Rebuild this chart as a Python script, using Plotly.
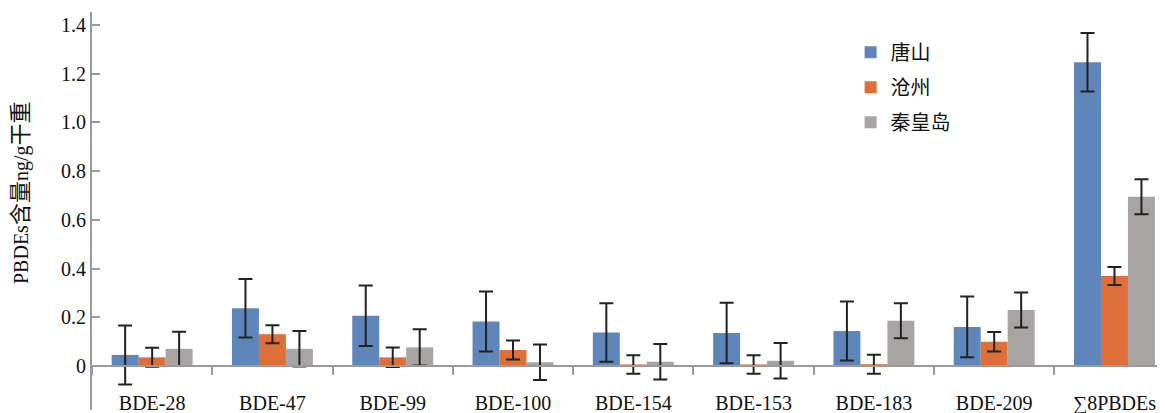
import plotly.graph_objects as go

categories = ["BDE-28", "BDE-47", "BDE-99", "BDE-100", "BDE-154", "BDE-153", "BDE-183", "BDE-209", "∑8PBDEs"]
series_names = ["唐山", "沧州", "秦皇岛"]
tangshan = [0.046, 0.237, 0.207, 0.183, 0.138, 0.136, 0.144, 0.161, 1.247]
tangshan_err = [0.121, 0.120, 0.124, 0.123, 0.120, 0.124, 0.121, 0.125, 0.120]
cangzhou = [0.036, 0.131, 0.036, 0.066, 0.007, 0.007, 0.008, 0.100, 0.370]
cangzhou_err = [0.039, 0.037, 0.040, 0.039, 0.038, 0.038, 0.039, 0.040, 0.037]
qinhuangdao = [0.071, 0.071, 0.077, 0.016, 0.018, 0.022, 0.186, 0.230, 0.695]
qinhuangdao_err = [0.070, 0.073, 0.074, 0.073, 0.073, 0.073, 0.072, 0.072, 0.072]
y_tickvals = [0, 0.2, 0.4, 0.6, 0.8, 1.0, 1.2, 1.4]
y_ticktext = ["0", "0.2", "0.4", "0.6", "0.8", "1.0", "1.2", "1.4"]
y_title = "PBDEs<span style='font-size:22px'>含量</span>ng/g<span style='font-size:22px'>干重</span>"

colors = ["#5f86ba", "#df6f38", "#a8a4a3"]
FONT = "'Liberation Serif', 'Times New Roman', 'Noto Sans CJK SC', serif"

fig = go.Figure()
for name, vals, errs, col in zip(series_names,
                                 [tangshan, cangzhou, qinhuangdao],
                                 [tangshan_err, cangzhou_err, qinhuangdao_err],
                                 colors):
    fig.add_trace(go.Bar(
        x=categories, y=vals, name=name, legendgroup=name,
        marker=dict(color=col, line=dict(width=0)),
        error_y=dict(type="data", array=errs, visible=True,
                     color="#222222", thickness=2, width=7),
    ))

# page has an 8px body margin, so the figure is sized to end at the window edge
W, H = 1157, 405
ML, MT, MR, MB = 84, 4, 0, 3
PW, PH = W - ML - MR, H - MT - MB

ymin, ymax = -0.18, 1.453
fig.update_layout(
    template="none",
    width=W, height=H,
    margin=dict(l=ML, r=MR, t=MT, b=MB, pad=0),
    paper_bgcolor="white", plot_bgcolor="white",
    barmode="group", bargap=0.327, bargroupgap=0,
    font=dict(family=FONT, size=20, color="#111111"),
    showlegend=True,
    legend=dict(x=0.707, y=0.948, xanchor="left", yanchor="top",
                bgcolor="rgba(0,0,0,0)", tracegroupgap=6, borderwidth=0,
                font=dict(size=20, family=FONT)),
    xaxis=dict(
        range=[-0.5, 8.42], anchor="free", automargin=False,
        position=(0 - ymin) / (ymax - ymin),
        showline=True, linecolor="#9a9a9a", linewidth=2,
        ticks="outside", tickson="boundaries", ticklen=8, tickwidth=2, tickcolor="#9a9a9a",
        ticklabelstandoff=19,
        showgrid=False, zeroline=False,
        tickfont=dict(size=20, family=FONT),
    ),
    yaxis=dict(
        range=[ymin, ymax], automargin=False,
        tickvals=y_tickvals, ticktext=y_ticktext,
        showline=True, linecolor="#9a9a9a", linewidth=2,
        ticks="inside", ticklen=8, tickwidth=2, tickcolor="#9a9a9a",
        showgrid=False, zeroline=False,
        tickfont=dict(size=20, family=FONT),
    ),
    annotations=[dict(
        text=y_title, textangle=-90, showarrow=False,
        xref="paper", yref="paper",
        x=-72 / PW, y=(402 - 185) / PH,
        xanchor="center", yanchor="middle",
        font=dict(size=20, family=FONT),
    )],
)

fig.write_html("out.html")
